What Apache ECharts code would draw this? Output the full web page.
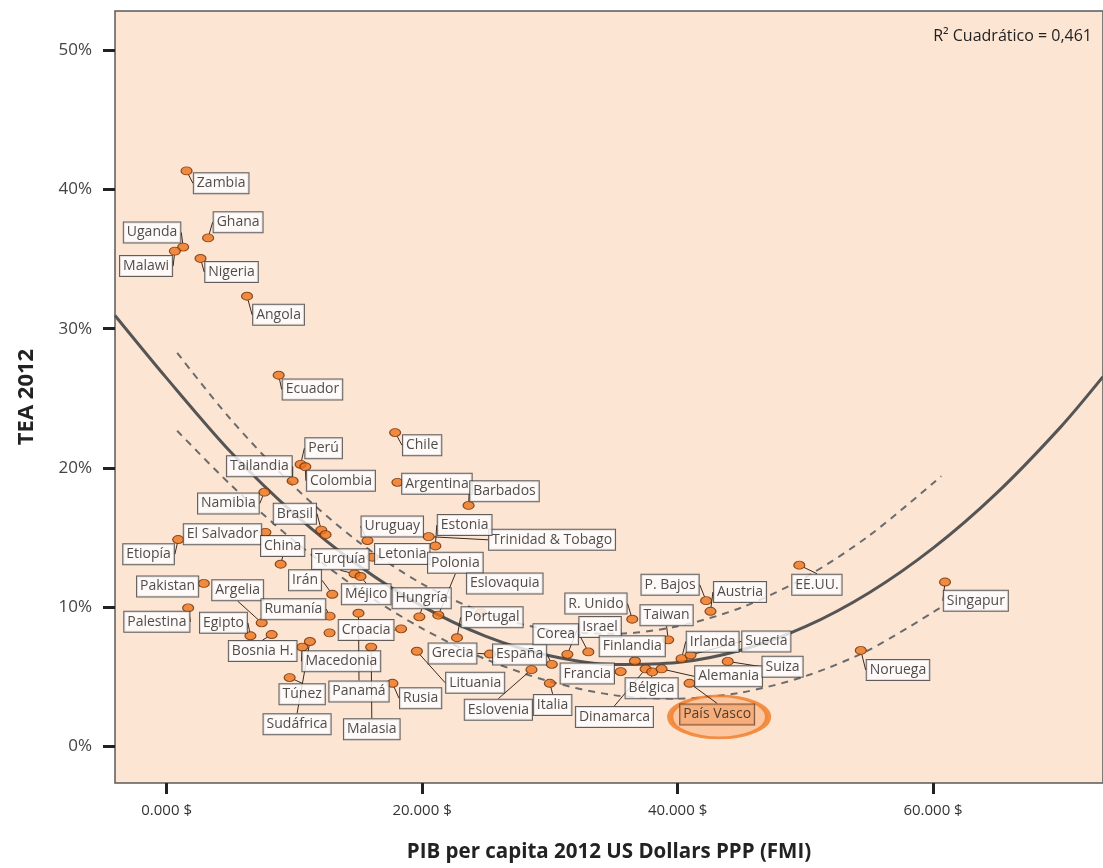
<!DOCTYPE html>
<html>
<head>
<meta charset="utf-8">
<script src="https://cdn.jsdelivr.net/npm/echarts@6/dist/echarts.min.js"></script>
<style>
html,body{margin:0;padding:0;background:#fff;}
#chart{width:1103px;height:868px;}
</style>
</head>
<body>
<div id="chart"></div>
<script>
// ---------- DATA ----------
var countries = ['Zambia','Ghana','Uganda','Malawi','Nigeria','Angola','Ecuador','Chile','Perú','Colombia',
  'Tailandia','Argentina','Namibia','Barbados','Brasil','','El Salvador','Etiopía','China','Uruguay',
  'Trinidad & Tobago','Estonia','Letonia','Turquía','Méjico','Pakistan','Palestina','Argelia','Egipto','Bosnia H.',
  'Irán','Rumanía','Panamá','','Croacia','Malasia','Sudáfrica','Macedonia','Túnez','Rusia',
  'Hungría','Polonia','Portugal','Grecia','España','Lituania','Eslovenia','Italia','Israel','Corea',
  'R. Unido','Taiwan','Finlandia','Francia','Dinamarca','Bélgica','Alemania','P. Bajos','Austria','Irlanda',
  'Suecia','Suiza','EE.UU.','Singapur','Noruega','Eslovaquia'];
var gdpPerCapita = [1563,3250,1297,648,2656,6297,8773,17890,10492,10859,
  9867,18070,7656,23640,12109,12445,7734,906,8930,15727,
  20516,21039,16117,14711,15180,2914,1688,7445,6563,8227,
  12969,12758,15023,12758,18359,16016,11219,10625,9633,17680,
  19789,21273,22734,25312,30156,19594,28563,30000,31375,33016,
  36453,39266,36664,35547,37500,38016,38750,42234,42578,40313,
  41016,43930,49531,60938,54344,24600];
var tea = [41.33,36.52,35.86,35.57,35.04,32.33,26.66,22.54,20.26,20.09,
  19.07,18.97,18.26,17.31,15.54,15.21,15.38,14.86,13.09,14.79,
  15.07,14.40,13.59,12.40,12.21,11.71,9.95,8.88,7.95,8.04,
  10.93,9.36,9.57,8.16,8.45,7.14,7.54,7.14,4.95,4.54,
  9.31,9.43,7.81,6.64,5.90,6.84,5.52,4.54,6.62,6.79,
  9.14,7.66,6.14,5.38,5.57,5.36,5.57,10.47,9.71,6.31,
  6.57,6.11,13.02,11.81,6.90,9.60];
var regionName = 'País Vasco';
var regionGdp = 40938;
var regionTea = 4.54;

// quadratic fit line (R² = 0,461) and its 95% band
var fitX   = [-4039, 0, 5000, 10000, 15000, 20000, 25000, 30000, 35000, 40000, 45000, 50000, 55000, 60000, 65000, 70000, 73305];
var fitTea = [30.95, 26.45, 21.16, 16.70, 13.01, 10.08, 7.91, 6.52, 5.89, 6.03, 6.93, 8.60, 11.04, 14.24, 18.21, 22.95, 26.55];
var bandX     = [828, 5000, 10000, 15000, 20000, 25000, 30000, 35000, 40000, 45000, 50000, 55000, 60648];
var bandUpTea = [28.27, 23.51, 18.65, 14.71, 11.68, 9.56, 8.37, 8.09, 8.63, 9.98, 12.15, 15.14, 19.41];
var bandLoTea = [22.67, 18.81, 14.75, 11.31, 8.48, 6.26, 4.67, 3.69, 3.43, 3.88, 5.05, 6.94, 10.01];

var xTickValues = [0, 20000, 40000, 60000];
var yTickValues = [0, 10, 20, 30, 40, 50];
var r2Text = 'R\u00B2 Cuadrático = 0,461';
var xAxisTitle = 'PIB per capita 2012 US Dollars PPP (FMI)';
var yAxisTitle = 'TEA 2012';

// ---------- LAYOUT (label box offsets from each point, px) ----------
var LABEL_POS = {
  'Zambia':[34.6,12.3],'Ghana':[30,-15.7],'Uganda':[-31.1,-14.6],'Malawi':[-28.8,15],'Nigeria':[31,13.6],
  'Angola':[31.5,18.6],'Ecuador':[33.8,14.2],'Chile':[27,12.6],'Perú':[23,-16],'Colombia':[35.6,14],
  'Tailandia':[-33.3,-14.6],'Argentina':[39.5,1.4],'Namibia':[-36,11.3],'Barbados':[35.9,-14.3],'Brasil':[-26.4,-16.4],
  'El Salvador':[-42.9,2],'Etiopía':[-29.6,14.7],'China':[2,-18.2],'Uruguay':[24.8,-14.1],
  'Trinidad & Tobago':[123.4,3.2],'Estonia':[29.3,-20.9],'Letonia':[29.8,-3.3],'Turquía':[-14.2,-14.5],'Méjico':[5.7,17.9],
  'Pakistan':[-36.2,3],'Palestina':[-31.3,13.7],'Argelia':[-24,-32.7],'Egipto':[-27,-13],'Bosnia H.':[-9,16.5],
  'Irán':[-27.2,-14],'Rumanía':[-36.2,-7],'Panamá':[0.5,78.2],'Croacia':[-35,1.3],'Malasia':[0.6,82.2],
  'Sudáfrica':[-12.8,82.8],'Macedonia':[39,14.2],'Túnez':[12.5,16.7],'Rusia':[28.2,15],
  'Hungría':[2.3,-18.7],'Polonia':[17,-52.3],'Portugal':[35.1,-20.4],'Grecia':[-37.4,-0.6],'España':[-32.2,-9.9],
  'Lituania':[58.3,31.5],'Eslovenia':[-33.1,40],'Italia':[2.8,21.6],'Israel':[32.7,-27.4],'Corea':[-32.6,-17.8],
  'R. Unido':[-36.3,-15.6],'Taiwan':[-1.6,-24.7],'Finlandia':[-2.7,-14.8],'Francia':[-33.4,2],'Dinamarca':[-31.2,48],
  'Bélgica':[-0.6,16.4],'Alemania':[67,7.4],'P. Bajos':[-36,-16],'Austria':[29.5,-19.3],'Irlanda':[31.1,-17],
  'Suecia':[75.8,-13.6],'Suiza':[54.8,5.3],'EE.UU.':[17.6,19.5],'Singapur':[30.8,18.7],'Noruega':[37.2,19.6],
  'Eslovaquia':[23.9,-29.3],
  'País Vasco':[27.6,31.1]
};
var NO_LEADER = {'Eslovaquia':true};
var X_MIN = -4039, X_MAX = 73305, Y_MIN = -2.62, Y_MAX = 52.81;

function pairs(xs, ys){ return xs.map(function(x,i){ return [x, ys[i]]; }); }

var pointData = countries.map(function(c,i){
  var d = {name:c, value:[gdpPerCapita[i], tea[i]], label:{show: c!==''}};
  if (NO_LEADER[c]) d.labelLine = {show:false};
  return d;
});
pointData.push({name:regionName, value:[regionGdp, regionTea],
  label:{show:true, backgroundColor:'#F6A872', borderColor:'#5a3a26'}});
var names = pointData.map(function(d){return d.name;});

var FONT = '"Open Sans", "Noto Sans", sans-serif';
var chart = echarts.init(document.getElementById('chart'), null, {renderer:'canvas'});
chart.setOption({
  animation:false,
  backgroundColor:'#ffffff',
  grid:{left:115, right:-2, top:11, height:776, show:true, backgroundColor:'#FDE5D4', borderColor:'#5a5a5a', borderWidth:1.5},
  xAxis:{
    type:'value', min:X_MIN, max:X_MAX,
    name:xAxisTitle, nameLocation:'middle', nameGap:59,
    nameTextStyle:{fontFamily:FONT, fontWeight:'bold', fontSize:20.5, color:'#222'},
    axisLine:{show:false, onZero:false},
    axisTick:{show:true, customValues:xTickValues, length:11, lineStyle:{color:'#222', width:3}},
    axisLabel:{show:true, customValues:xTickValues, margin:20, fontFamily:FONT, fontSize:15, color:'#333',
      formatter:function(v){return (v/1000)+'.000 $';}},
    splitLine:{show:false}
  },
  yAxis:{
    type:'value', min:Y_MIN, max:Y_MAX,
    name:yAxisTitle, nameLocation:'middle', nameGap:77,
    nameTextStyle:{fontFamily:FONT, fontWeight:'bold', fontSize:22, color:'#222'},
    axisLine:{show:false, onZero:false},
    axisTick:{show:true, customValues:yTickValues, length:12, lineStyle:{color:'#222', width:3}},
    axisLabel:{show:true, customValues:yTickValues, margin:23, fontFamily:FONT, fontSize:17, color:'#444',
      formatter:function(v){return v+'%';}},
    splitLine:{show:false}
  },
  graphic:[{type:'text', right:11, top:28, style:{text:r2Text, font:'16px '+FONT, fill:'#222'}}],
  series:[
    {type:'line', data:pairs(bandX, bandUpTea), smooth:0.3, showSymbol:false, symbol:'none', z:2, silent:true,
      lineStyle:{color:'#6b6b6b', width:2, type:[7,6]}},
    {type:'line', data:pairs(bandX, bandLoTea), smooth:0.3, showSymbol:false, symbol:'none', z:2, silent:true,
      lineStyle:{color:'#6b6b6b', width:2, type:[7,6]}},
    {type:'line', data:pairs(fitX, fitTea), smooth:0.3, showSymbol:false, symbol:'none', z:2, silent:true,
      lineStyle:{color:'#555555', width:3}},
    {type:'scatter', z:3, silent:true,
      data:[[regionGdp, regionTea]],
      symbol:'circle', symbolSize:[98,42], symbolOffset:[29.6,33.6],
      itemStyle:{color:'#FABE92', borderColor:'#F07A24', borderWidth:4}},
    {type:'scatter', z:5, data:pointData,
      symbol:'circle', symbolSize:[11,8],
      itemStyle:{color:'#EC731C', borderColor:'#6b2c00', borderWidth:1},
      label:{show:true, position:'inside', formatter:'{b}', fontFamily:FONT, fontSize:14, lineHeight:16, color:'#222',
        backgroundColor:'#ffffff', borderColor:'#3a3a3a', borderWidth:1, padding:[2,3,2,3]},
      labelLine:{show:true, lineStyle:{color:'#3a2a20', width:1}},
      labelLayout:function(p){
        var o = LABEL_POS[names[p.dataIndex]];
        if(!o) return {};
        return {x:p.rect.x+p.rect.width/2+o[0], y:p.rect.y+p.rect.height/2+o[1], align:'center', verticalAlign:'middle'};
      }
    }
  ]
});
</script>
</body>
</html>
